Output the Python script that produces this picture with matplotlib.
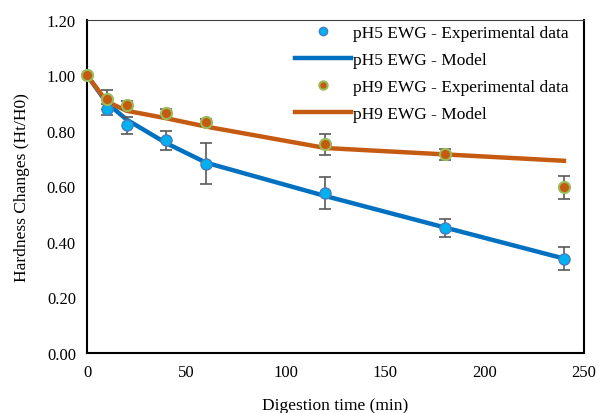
import matplotlib.pyplot as plt

plt.rcParams['font.family'] = ['Liberation Serif', 'DejaVu Serif']

time = [0, 10, 20, 40, 60, 120, 180, 240]

# experimental data (mean, error)
ph5_exp = [1.00, 0.877, 0.82, 0.766, 0.682, 0.577, 0.449, 0.340]
ph5_err = [0.0, 0.02, 0.03, 0.035, 0.075, 0.057, 0.032, 0.041]
ph9_exp = [1.00, 0.913, 0.894, 0.865, 0.830, 0.751, 0.715, 0.596]
ph9_err = [0.0, 0.035, 0.015, 0.015, 0.012, 0.039, 0.02, 0.04]

# model curves
ph5_model = [1.00, 0.90, 0.84, 0.755, 0.685, 0.565, 0.452, 0.340]
ph9_model = [1.00, 0.905, 0.872, 0.845, 0.815, 0.738, 0.715, 0.692]

blue_face = '#00b0f0'
blue_edge = '#4a7ebb'
blue_line = '#0070c0'
orange = '#c55a11'
green_edge = '#9bbb59'
err_col = '#595959'

fig = plt.figure(figsize=(6, 4.14), dpi=100)
ax = fig.add_axes([0.145, 0.145, 0.828, 0.805])

l5, = ax.plot(time, ph5_model, color=blue_line, lw=3.2, zorder=2,
              label='pH5 EWG - Model')
l9, = ax.plot(time, ph9_model, color=orange, lw=3.2, zorder=2,
              label='pH9 EWG - Model')

ax.errorbar(time, ph5_exp, yerr=ph5_err, fmt='none', ecolor=err_col,
            elinewidth=1.2, capsize=4, capthick=1.2, zorder=3)
ax.errorbar(time, ph9_exp, yerr=ph9_err, fmt='none', ecolor=err_col,
            elinewidth=1.2, capsize=4, capthick=1.2, zorder=3)

p5, = ax.plot(time, ph5_exp, 'o', ms=8, mfc=blue_face, mec=blue_edge, mew=1,
              zorder=4, clip_on=False, label='pH5 EWG - Experimental data')
p9, = ax.plot(time, ph9_exp, 'o', ms=8, mfc=orange, mec=green_edge, mew=1.5,
              zorder=4, clip_on=False, label='pH9 EWG - Experimental data')

ax.set_xlim(0, 250)
ax.set_ylim(0, 1.2)
ax.set_xticks(range(0, 251, 50))
ax.set_yticks([0, 0.2, 0.4, 0.6, 0.8, 1.0, 1.2])
ax.set_yticklabels([f'{v:.2f}' for v in ax.get_yticks()])
ax.tick_params(length=0, labelsize=12, pad=8)

for s in ['left', 'bottom', 'right']:
    ax.spines[s].set_color('black')
    ax.spines[s].set_linewidth(1.5)
ax.spines['top'].set_color('#404040')
ax.spines['top'].set_linewidth(0.8)

ax.set_xlabel('Digestion time (min)', fontsize=12.5, labelpad=12)
ax.set_ylabel('Hardness Changes (Ht/H0)', fontsize=12.5, labelpad=12)

ax.legend(handles=[p5, l5, p9, l9], loc='upper right', frameon=False,
          fontsize=12.5, markerscale=0.75, handlelength=3.2,
          handletextpad=0.1, labelspacing=0.62,
          bbox_to_anchor=(1.0, 1.03))

fig.savefig('out.png', dpi=100)
